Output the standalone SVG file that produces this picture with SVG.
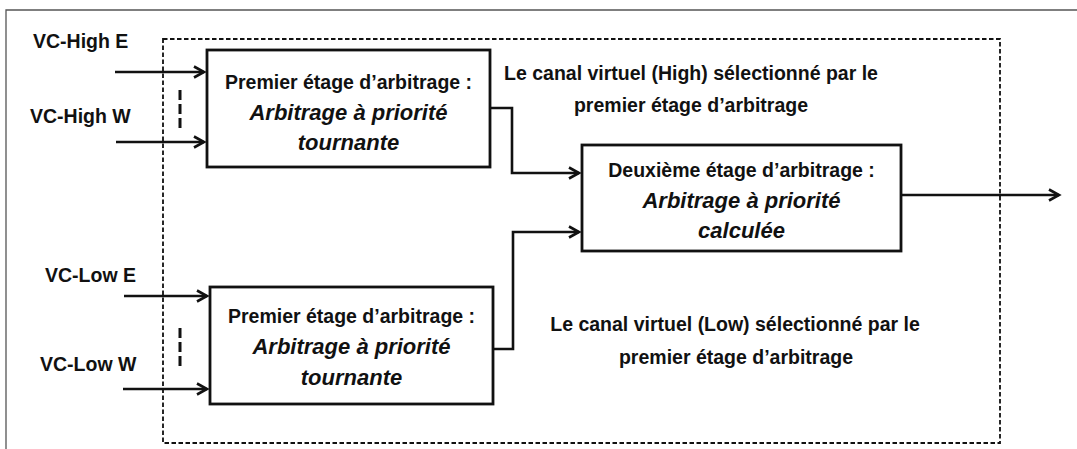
<svg xmlns="http://www.w3.org/2000/svg" width="1077" height="449" viewBox="0 0 1077 449">
<style>
text{font-family:"Liberation Sans",Arial,sans-serif;font-weight:bold;font-size:19.5px;fill:#111}
.c{text-anchor:middle}
.b{font-size:19.5px}
.i{font-style:italic;font-size:22px}
.box{fill:#fff;stroke:#111;stroke-width:2.8}
.conn{fill:none;stroke:#111;stroke-width:2.6}
</style>
<defs>
<marker id="ah" markerWidth="14" markerHeight="14" refX="11" refY="7" orient="auto" markerUnits="userSpaceOnUse">
<path d="M1,1.5 L11,7 L1,12.5" fill="none" stroke="#111" stroke-width="2.6"/>
</marker>
</defs>
<g id="frame">
<path d="M6,449 V10 H1077" fill="none" stroke="#555" stroke-width="1.3"/>
<rect x="163" y="39" width="837" height="404" fill="none" stroke="#111" stroke-width="1.8" stroke-dasharray="4.5,2.5"/>
</g>
<g id="connectors">
<line class="conn" x1="115" y1="72" x2="204" y2="72" marker-end="url(#ah)"/>
<line class="conn" x1="116" y1="142" x2="204" y2="142" marker-end="url(#ah)"/>
<line class="conn" x1="124" y1="296" x2="207" y2="296" marker-end="url(#ah)"/>
<line class="conn" x1="123" y1="389" x2="207" y2="389" marker-end="url(#ah)"/>
<line x1="180" y1="90" x2="180" y2="132" stroke="#111" stroke-width="3" stroke-dasharray="10,4"/>
<line x1="180" y1="328" x2="180" y2="369" stroke="#111" stroke-width="3" stroke-dasharray="10,4"/>
<path class="conn" d="M490,108 H512 V173 H579" marker-end="url(#ah)"/>
<path class="conn" d="M493,349 H513 V232 H579" marker-end="url(#ah)"/>
<line class="conn" x1="901" y1="195" x2="1059" y2="195" marker-end="url(#ah)"/>
</g>
<g id="labels">
<text x="33" y="48">VC-High E</text>
<text x="30" y="123">VC-High W</text>
<text x="45" y="282">VC-Low E</text>
<text x="40" y="371">VC-Low W</text>
<text class="c" x="691" y="80">Le canal virtuel (High) sélectionné par le</text>
<text class="c" x="691" y="112">premier étage d’arbitrage</text>
<text class="c" x="735" y="331">Le canal virtuel (Low) sélectionné par le</text>
<text class="c" x="736" y="364">premier étage d’arbitrage</text>
</g>
<g id="node-high">
<rect class="box" x="207" y="50" width="283" height="117"/>
<text class="c b" x="348.5" y="89">Premier étage d’arbitrage :</text>
<text class="c i" x="348.5" y="120">Arbitrage à priorité</text>
<text class="c i" x="348.5" y="150">tournante</text>
</g>
<g id="node-low">
<rect class="box" x="210" y="287" width="283" height="117"/>
<text class="c b" x="351.5" y="323">Premier étage d’arbitrage :</text>
<text class="c i" x="351.5" y="354">Arbitrage à priorité</text>
<text class="c i" x="351.5" y="385">tournante</text>
</g>
<g id="node-second">
<rect class="box" x="582" y="145" width="319" height="106"/>
<text class="c b" x="741.5" y="177">Deuxième étage d’arbitrage :</text>
<text class="c i" x="741.5" y="208">Arbitrage à priorité</text>
<text class="c i" x="741.5" y="238">calculée</text>
</g>
</svg>
